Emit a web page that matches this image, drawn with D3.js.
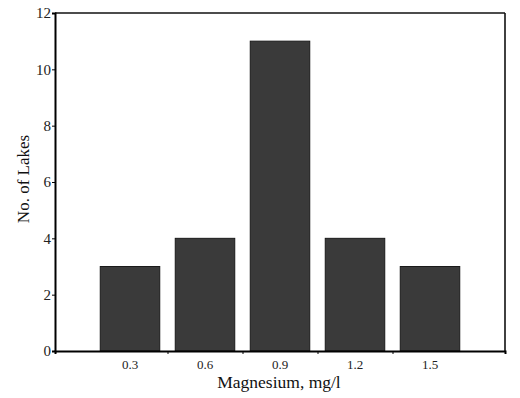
<!DOCTYPE html>
<html>
<head>
<meta charset="utf-8">
<script src="https://cdn.jsdelivr.net/npm/d3@7"></script>
<style>
  body { margin: 0; background: #fff; }
  text { font-family: "Liberation Serif", "DejaVu Serif", serif; }
</style>
</head>
<body>
<svg id="chart"></svg>
<script>
"use strict";

// bin centres (mg/l) and lake counts
const binCenters = [0.3, 0.6, 0.9, 1.2, 1.5];
const lakeCounts = [3, 4, 11, 4, 3];
const binEdges = [0.45, 0.75, 1.05, 1.35];
const yTicks = [0, 2, 4, 6, 8, 10, 12];

const width = 520, height = 398;
const margin = {top: 13, right: 15, bottom: 47, left: 55};

const svg = d3.select("#chart")
    .attr("width", width)
    .attr("height", height);

const x = d3.scaleLinear().domain([0, 1.8]).range([margin.left, width - margin.right]);
const y = d3.scaleLinear().domain([0, 12]).range([height - margin.bottom, margin.top]);

const barHalf = 0.119;

// bars
svg.append("g").selectAll("rect")
    .data(binCenters)
    .enter().append("rect")
    .attr("x", d => x(d - barHalf))
    .attr("width", d => x(d + barHalf) - x(d - barHalf))
    .attr("y", (d, i) => y(lakeCounts[i]))
    .attr("height", (d, i) => y(0) - y(lakeCounts[i]))
    .attr("fill", "#3a3a3a")
    .attr("stroke", "#1a1a1a")
    .attr("stroke-width", 1);

// frame: top and right
svg.append("line")
    .attr("x1", x(0)).attr("x2", x(1.8))
    .attr("y1", y(12)).attr("y2", y(12))
    .attr("stroke", "#111").attr("stroke-width", 1.6);
svg.append("line")
    .attr("x1", x(1.8)).attr("x2", x(1.8))
    .attr("y1", y(12)).attr("y2", y(0))
    .attr("stroke", "#111").attr("stroke-width", 1.6);

// y axis
const yAxis = svg.append("g")
    .attr("transform", `translate(${x(0)},0)`)
    .call(d3.axisLeft(y).tickValues(yTicks).tickSize(3).tickPadding(1));
yAxis.select(".domain").attr("stroke", "#000").attr("stroke-width", 2);
yAxis.selectAll("text").attr("font-size", 15).attr("fill", "#222")
    .style("font-family", "Liberation Serif");

// x axis: ticks at bin edges, labels under bin centres
const xAxis = svg.append("g")
    .attr("transform", `translate(0,${y(0)})`)
    .call(d3.axisBottom(x).tickValues(binEdges).tickSize(3).tickFormat(""));
xAxis.select(".domain").attr("stroke", "#000").attr("stroke-width", 2);

svg.append("g").selectAll("text")
    .data(binCenters)
    .enter().append("text")
    .attr("x", d => x(d))
    .attr("y", y(0) + 18)
    .attr("text-anchor", "middle")
    .attr("font-size", 13)
    .attr("fill", "#222")
    .text(d => d3.format(".1f")(d));

// axis titles
svg.append("text")
    .attr("x", 279)
    .attr("y", 388)
    .attr("text-anchor", "middle")
    .attr("font-size", 17.5)
    .attr("fill", "#111")
    .text("Magnesium, mg/l");

svg.append("text")
    .attr("transform", "translate(29,179) rotate(-90)")
    .attr("text-anchor", "middle")
    .attr("font-size", 17)
    .attr("fill", "#111")
    .text("No. of Lakes");
</script>
</body>
</html>
